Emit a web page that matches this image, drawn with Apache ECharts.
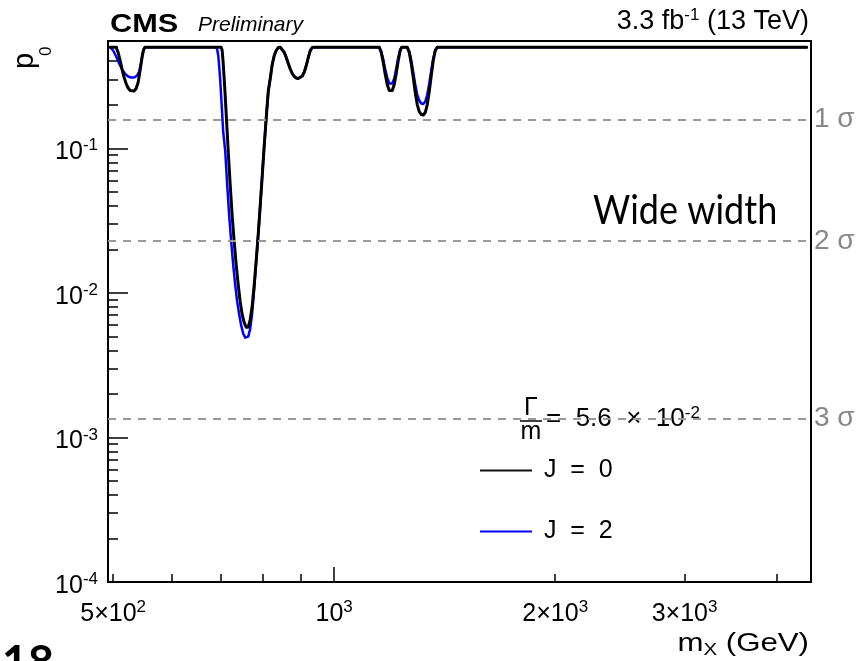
<!DOCTYPE html>
<html><head><meta charset="utf-8">
<script src="https://cdn.jsdelivr.net/npm/echarts@6/dist/echarts.min.js"></script>
<style>html,body{margin:0;padding:0;background:#fff}#c{width:863px;height:661px}</style>
</head><body><div id="c"></div>
<script>
// ---- data (m_X in GeV, local p0) ----
const massJ0 = [495.3,504.7,507.9,511.1,514.3,517.5,520.8,524.1,527.4,530.7,534.0,537.4,540.7,544.1,547.6,550.2,552.7,
  701.6,703.8,706.0,708.2,710.5,712.7,714.9,717.2,721.7,726.2,730.8,735.4,740.1,744.7,749.4,754.1,758.9,761.3,763.7,768.5,773.3,778.2,783.1,788.0,793.0,798.0,803.0,808.1,813.2,818.3,823.4,828.6,833.8,839.1,844.4,
  849.7,855.1,860.5,865.9,871.3,876.8,882.3,887.9,893.5,899.1,904.8,910.5,916.2,922.0,927.8,933.6,939.5,
  1151.8,1159.0,1166.3,1173.6,1181.0,1188.5,1194.1,1199.7,1207.2,1214.8,1222.5,1230.2,1236.0,
  1257.5,1265.4,1273.3,1281.4,1289.4,1297.5,1305.7,1313.9,1322.2,1330.5,1338.9,1347.3,1355.8,1364.3,1372.9,1381.6,
  4400];
const pJ0 = [0.5,0.5,0.4596,0.4045,0.3504,0.3085,0.2804,0.2610,0.2508,0.2468,0.2488,0.2589,0.2849,0.3449,0.4311,0.4819,0.5,
  0.5,0.4745,0.3918,0.3037,0.2316,0.1738,0.1305,0.0964,0.0561,0.0342,0.0226,0.01568,0.01139,0.00869,0.00706,0.00622,0.00579,0.00570,0.00579,0.00652,0.00815,0.01139,0.0167,0.0253,0.0401,0.0647,0.1044,0.1631,0.2468,0.3037,0.3795,0.4381,0.4745,0.497,0.5,
  0.4858,0.4596,0.4244,0.3857,0.3533,0.3289,0.3135,0.3060,0.3037,0.3060,0.3160,0.3368,0.3735,0.4244,0.4745,0.497,0.5,
  0.5,0.4596,0.3918,0.3236,0.2760,0.2508,0.2448,0.2508,0.2760,0.3289,0.4045,0.4745,0.5,
  0.5,0.4596,0.3857,0.3085,0.2429,0.2006,0.1795,0.1711,0.1698,0.1767,0.2006,0.2468,0.3185,0.4045,0.4745,0.5,
  0.5];
const massJ2 = [495.3,500.0,504.7,509.5,514.3,519.2,524.1,529.0,534.0,539.1,542.5,545.9,549.3,551.9,
  690.7,692.9,695.1,697.3,699.5,701.6,703.8,706.0,710.5,714.9,719.4,724.0,728.5,733.1,737.7,742.4,747.1,751.8,756.5,760.1,763.7,768.5,773.3,778.2,783.1,788.0,793.0,798.0,803.0,808.1,813.2,818.3,823.4,828.6,833.8,839.1,844.4,
  849.7,855.1,860.5,865.9,871.3,876.8,882.3,887.9,893.5,899.1,904.8,910.5,916.2,922.0,927.8,933.6,939.5,
  1151.8,1159.0,1166.3,1173.6,1181.0,1188.5,1194.1,1199.7,1207.2,1214.8,1222.5,1230.2,1236.0,
  1257.5,1265.4,1273.3,1281.4,1289.4,1297.5,1305.7,1313.9,1322.2,1330.5,1338.9,1347.3,1355.8,1364.3,1372.9,1381.6,
  4400];
const pJ2 = [0.5,0.4745,0.4311,0.3857,0.3504,0.3262,0.3135,0.3085,0.3085,0.3185,0.3395,0.3918,0.4670,0.5,
  0.5,0.4819,0.4381,0.3675,0.2941,0.2279,0.1738,0.1305,0.0964,0.0561,0.0342,0.0226,0.01568,0.01139,0.00869,0.00706,0.00593,0.00522,0.00490,0.00482,0.00498,0.00565,0.00729,0.01069,0.0167,0.0253,0.0401,0.0647,0.1044,0.1631,0.2468,0.3037,0.3795,0.4381,0.4745,0.497,0.5,
  0.4858,0.4596,0.4244,0.3857,0.3533,0.3289,0.3135,0.3060,0.3037,0.3060,0.3160,0.3368,0.3735,0.4244,0.4745,0.497,0.5,
  0.5,0.4670,0.4110,0.3504,0.3085,0.2804,0.2738,0.2804,0.3037,0.3561,0.4244,0.4819,0.5,
  0.5,0.4670,0.4045,0.3342,0.2760,0.2353,0.2138,0.2038,0.2022,0.2104,0.2353,0.2804,0.3449,0.4176,0.4745,0.5,
  0.5];
const sigmaP = [0.1587, 0.02275, 0.00135];
const sigmaLabels = ['1 σ', '2 σ', '3 σ'];
const seriesNames = ['J = 0', 'J = 2'];
const xLabelTicks = [500, 1000, 2000, 3000];
const xMajorTicks = [1000];
const xMinorTicks = [500, 600, 700, 800, 900, 2000, 3000, 4000];
const yLabelTicks = [1e-4, 1e-3, 1e-2, 1e-1];
const yDecades = [-4, -3, -2, -1];
const yMinorMult = [2, 3, 4, 5, 6, 7, 8, 9];

const X_MIN = 492, X_MAX = 4460, Y_MIN = 1e-4, Y_MAX = 0.552;
const FONT = '"Liberation Sans", Arial, Helvetica, sans-serif';

const yMinorTicks = [];
yDecades.forEach(d => yMinorMult.forEach(k => { const v = k * Math.pow(10, d); if (v < Y_MAX) yMinorTicks.push(v); }));

const zip = (xs, ys) => xs.map((x, i) => [x, ys[i]]);

const supRich = {
  b: { fontFamily: FONT, fontSize: 25, color: '#000', lineHeight: 30 },
  s: { fontFamily: FONT, fontSize: 17, color: '#000', lineHeight: 17, verticalAlign: 'top' }
};
function expOf(v) { return Math.floor(Math.log10(v) + 1e-9); }
function xFmt(v) {
  const e = expOf(v); const m = Math.round(v / Math.pow(10, e));
  return (m === 1 ? '{b|10}' : '{b|' + m + '×10}') + '{s|' + e + '}';
}
function yFmt(v) { return '{b|10}{s|' + expOf(v) + '}'; }

const chart = echarts.init(document.getElementById('c'), null, { renderer: 'canvas' });
chart.setOption({
  backgroundColor: '#fff',
  animation: false,
  grid: { left: 108, right: 52, top: 41, bottom: 79, show: true, borderColor: '#000', borderWidth: 2, backgroundColor: 'transparent' },
  legend: {
    orient: 'vertical', left: 480, top: 458, padding: 0, itemWidth: 52, itemHeight: 2, itemGap: 36,
    icon: 'rect',
    data: seriesNames,
    formatter: n => ' ' + n.replace(/ /g, '  '),
    textStyle: { fontFamily: FONT, fontSize: 25, color: '#000' }
  },
  xAxis: [
    { type: 'log', logBase: 10, min: X_MIN, max: X_MAX,
      axisLine: { show: true, lineStyle: { color: '#000', width: 2 } },
      axisTick: { show: true, inside: true, length: 15, customValues: xMajorTicks, lineStyle: { color: '#000', width: 1.5 } },
      axisLabel: { show: true, customValues: xLabelTicks, margin: 17, formatter: xFmt, rich: supRich },
      splitLine: { show: false } },
    { type: 'log', logBase: 10, min: X_MIN, max: X_MAX, position: 'bottom',
      axisLine: { show: false },
      axisTick: { show: true, inside: true, length: 8, customValues: xMinorTicks, lineStyle: { color: '#000', width: 1.5 } },
      axisLabel: { show: false }, splitLine: { show: false } }
  ],
  yAxis: [
    { type: 'log', logBase: 10, min: Y_MIN, max: Y_MAX,
      axisLine: { show: true, lineStyle: { color: '#000', width: 2 } },
      axisTick: { show: true, inside: true, length: 20, customValues: yLabelTicks, lineStyle: { color: '#000', width: 1.5 } },
      axisLabel: { show: true, customValues: yLabelTicks, margin: 10, padding: [8, 0, 0, 0], formatter: yFmt, rich: supRich },
      splitLine: { show: false } },
    { type: 'log', logBase: 10, min: Y_MIN, max: Y_MAX, position: 'left',
      axisLine: { show: false },
      axisTick: { show: true, inside: true, length: 10, customValues: yMinorTicks, lineStyle: { color: '#000', width: 1.5 } },
      axisLabel: { show: false }, splitLine: { show: false } }
  ],
  series: [
    { name: seriesNames[1], type: 'line', xAxisIndex: 0, yAxisIndex: 0, data: zip(massJ2, pJ2),
      showSymbol: false, symbol: 'none', smooth: false,
      lineStyle: { color: '#0000ff', width: 2.5, join: 'round', cap: 'round' }, itemStyle: { color: '#0000ff' }, z: 2 },
    { name: seriesNames[0], type: 'line', xAxisIndex: 0, yAxisIndex: 0, data: zip(massJ0, pJ0),
      showSymbol: false, symbol: 'none', smooth: false,
      lineStyle: { color: '#000', width: 3, join: 'round', cap: 'round' }, itemStyle: { color: '#111' }, z: 3,
      markLine: { silent: true, symbol: 'none', animation: false, precision: 6,
        lineStyle: { color: '#999', width: 2, type: [8, 7] },
        label: { show: true, position: 'end', distance: 3, formatter: p => p.name, fontFamily: FONT, fontSize: 28, color: '#888' },
        data: sigmaP.map((v, i) => ({ yAxis: v, name: sigmaLabels[i] })) } }
  ],
  graphic: [
    { type: 'text', x: 110, y: 12, scaleX: 1.18, style: { text: 'CMS', font: 'bold 26px ' + FONT, fill: '#000' } },
    { type: 'text', x: 198, y: 15, style: { text: 'Preliminary', font: 'italic 21px ' + FONT, fill: '#000' } },
    { type: 'text', x: 809, y: 7, style: { text: '{b|3.3 fb}{s|-1}{b| (13 TeV)}', align: 'right',
        rich: { b: { fontFamily: FONT, fontSize: 27, color: '#000', lineHeight: 30 }, s: { fontFamily: FONT, fontSize: 17, color: '#000', lineHeight: 17, verticalAlign: 'top' } } } },
    { type: 'text', x: 10, y: 69, rotation: Math.PI / 2, style: { text: 'p', font: '29px ' + FONT, fill: '#000' } },
    { type: 'text', x: 38, y: 56, rotation: Math.PI / 2, style: { text: '0', font: '17px ' + FONT, fill: '#000' } },
    { type: 'text', x: 809, y: 629, scaleX: 1.2, style: { text: '{b|m}{s|X}{b| (GeV)}', align: 'right',
        rich: { b: { fontFamily: FONT, fontSize: 26, color: '#000', lineHeight: 30 }, s: { fontFamily: FONT, fontSize: 17, color: '#000', lineHeight: 17, verticalAlign: 'bottom' } } } },
    { type: 'text', x: 531, y: 396, style: { text: 'Γ', font: '25px ' + FONT, fill: '#000', align: 'center' } },
    { type: 'line', shape: { x1: 520, y1: 421, x2: 542, y2: 421 }, style: { stroke: '#000', lineWidth: 1.5 } },
    { type: 'text', x: 531, y: 420, style: { text: 'm', font: '25px ' + FONT, fill: '#000', align: 'center' } },
    { type: 'text', x: 546, y: 405, style: { text: '{b|=  5.6  ×  10}{s|-2}',
        rich: { b: { fontFamily: FONT, fontSize: 26, color: '#000', lineHeight: 28 }, s: { fontFamily: FONT, fontSize: 17, color: '#000', lineHeight: 17, verticalAlign: 'top' } } } },
    { type: 'text', x: 593, y: 191, scaleX: 0.9, style: { text: 'Wide width', font: '40px Lato, sans-serif', fill: '#000' } },
    { type: 'text', x: 2, y: 641, style: { text: '18', font: 'bold 45px Lato, sans-serif', fill: '#000' } }
  ]
});
</script></body></html>
